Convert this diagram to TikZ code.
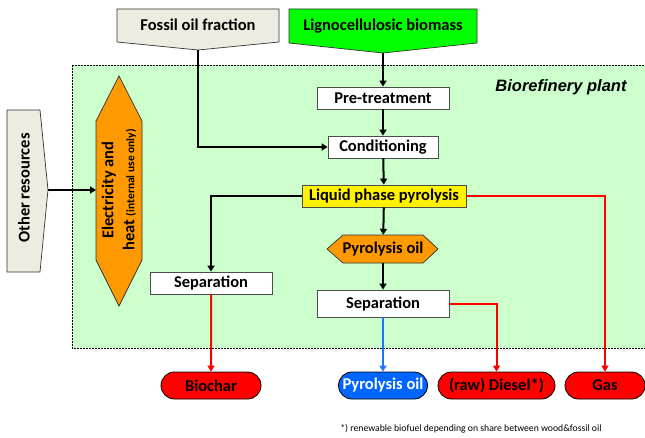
\documentclass[tikz,border=0pt]{standalone}
\usepackage{fontspec}
\setmainfont{Carlito}
\newfontfamily\arialfont{Liberation Sans}
\usetikzlibrary{arrows.meta,shapes.misc}

\definecolor{beige}{HTML}{EEECE1}
\definecolor{plantgreen}{HTML}{CCFFCC}
\definecolor{biogreen}{HTML}{00FF00}
\definecolor{pyroorange}{HTML}{FF9900}
\definecolor{outred}{HTML}{FF0000}
\definecolor{outblue}{HTML}{0066FF}
\definecolor{lineblue}{HTML}{1A75FF}

\begin{document}
\begin{tikzpicture}
[
    x=1pt, y=1pt,
    every node/.style={font=\fontsize{16.5}{18}\selectfont\bfseries},
    stepbox/.style={draw=black!70, line width=0.8pt, fill=white, inner sep=0pt, minimum height=22pt},
    product/.style={rounded rectangle, draw=black, line width=0.8pt, fill=outred, inner sep=0pt, minimum height=27pt},
    flow/.style={line width=2pt, -{Triangle[length=6pt,width=7pt]}},
    redflow/.style={flow, draw=outred, -{Triangle[length=6pt,width=7pt]}},
    blueflow/.style={flow, draw=lineblue, -{Triangle[length=6pt,width=7pt]}},
    shapeline/.style={draw=black!80, line width=0.7pt},
]
\useasboundingbox (0,0) rectangle (645,437);

% plant area
\draw[dashed, line width=0.6pt, fill=plantgreen, dash pattern=on 2pt off 1pt]
    (72,372) rectangle (660,89);
\node[font=\arialfont\fontsize{16.5}{18}\selectfont\bfseries\itshape] (plant) at (561,350) {Biorefinery plant};

% feedstocks
\filldraw[shapeline, fill=beige] (117,428) -- (279,428) -- (279,395) -- (198,387) -- (117,395) -- cycle;
\node (fossil) at (198,412) {Fossil oil fraction};
\coordinate (fossiltip) at (198,387);
\filldraw[shapeline, fill=biogreen] (289,428) -- (477,428) -- (477,394) -- (383,384) -- (289,394) -- cycle;
\node (ligno) at (383,411) {Lignocellulosic biomass};
\coordinate (lignotip) at (383,384);

% other resources and energy
\filldraw[shapeline, fill=beige] (7,327) -- (40,327) -- (48,247) -- (40,165) -- (7,165) -- cycle;
\node[rotate=90] (other) at (24,249) {Other resources};
\coordinate (othertip) at (48,247);
\filldraw[shapeline, fill=pyroorange] (119,361) -- (142,316) -- (142,177) -- (119,131) -- (96,177) -- (96,316) -- cycle;
\node[rotate=90, align=center, font=\fontsize{16.5}{21}\selectfont\bfseries] (elec) at (119,247)
    {Electricity and\\heat {\fontsize{11.5}{13}\selectfont(internal use only)}};
\coordinate (elecin) at (96,247);

% process chain
\node[stepbox, minimum width=132pt] (pretreat) at (383,339) {Pre-treatment};
\node[stepbox, minimum width=110pt] (cond) at (383,290) {Conditioning};
\node[stepbox, fill=yellow, minimum width=164pt] (lpp) at (384,241) {Liquid phase pyrolysis};
\filldraw[shapeline, fill=pyroorange] (327,188) -- (343,202) -- (423,202) -- (438,188) -- (423,174) -- (343,174) -- cycle;
\node[inner sep=0pt, minimum width=110pt, minimum height=28pt] (oilhex) at (383,188) {Pyrolysis oil};
\node[stepbox, minimum width=132pt, minimum height=27pt] (sepright) at (383,133.5) {Separation};
\node[stepbox, minimum width=122pt] (sepleft) at (211,154) {Separation};

% products
\node[product, minimum width=100pt] (biochar) at (211,51.5) {Biochar};
\node[product, fill=outblue, text=white, minimum width=89pt] (oilout) at (383,51.5) {Pyrolysis oil};
\node[product, minimum width=117pt] (diesel) at (496.5,51.5) {(raw) Diesel*)};
\node[product, minimum width=80pt] (gas) at (605,51.5) {Gas};

\node[font=\fontsize{9.7}{11}\selectfont] (note) at (471,8)
    {*) renewable biofuel depending on share between wood\&fossil oil};

% connectors
\draw[flow] (lignotip) -- (pretreat);
\draw[flow] (pretreat) -- (cond);
\draw[flow] (cond) -- (lpp);
\draw[flow] (lpp) -- (oilhex);
\draw[flow] (oilhex) -- (sepright);
\draw[flow] (fossiltip) |- (cond);
\draw[flow] (lpp) -| (sepleft);
\draw[flow] (othertip) -- (elecin);
\draw[redflow] (lpp) -| (gas);
\draw[redflow] (sepright) -| (diesel);
\draw[blueflow] (sepright) -- (oilout);
\draw[redflow] (sepleft) -- (biochar);
\end{tikzpicture}
\end{document}
